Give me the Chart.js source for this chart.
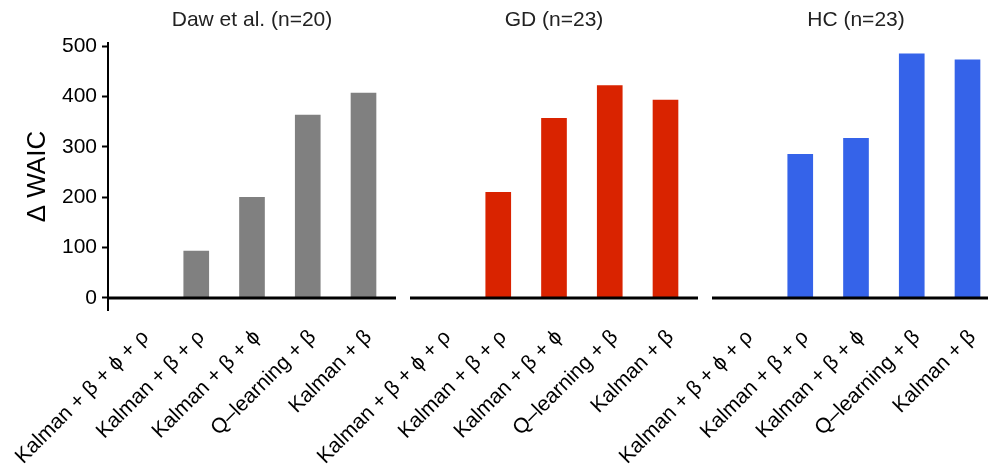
<!DOCTYPE html>
<html>
<head>
<meta charset="utf-8">
<script src="https://cdn.jsdelivr.net/npm/chart.js@4.4.1/dist/chart.umd.min.js"></script>
<style>
	html, body { margin: 0; padding: 0; background: #fff; }
	#wrap { position: relative; width: 988px; height: 465px; overflow: hidden; }
	#wrap canvas { position: absolute; left: 0; top: 0; }
</style>
</head>
<body>
<div id="wrap">
	<canvas id="daw" width="1000" height="465"></canvas>
	<canvas id="gd" width="1000" height="465"></canvas>
	<canvas id="hc" width="1000" height="465"></canvas>
</div>
<script>
// model names (same for every panel)
var models = ["Kalman + β + ϕ + ρ", "Kalman + β + ρ", "Kalman + β + ϕ", "Q–learning + β", "Kalman + β"];

// delta WAIC per group
var dawValues = [0, 93, 200, 363, 407];
var gdValues = [0, 210, 357, 422, 393];
var hcValues = [0, 285, 317, 485, 473];

var panelTitles = ["Daw et al. (n=20)", "GD (n=23)", "HC (n=23)"];
var yTicks = [0, 100, 200, 300, 400, 500];

var font = "'Liberation Sans', Arial, Helvetica, sans-serif";

// black line at y = 0 across the panel
var zeroLine = {
	id: "zeroLine",
	afterDatasetsDraw: function (chart) {
		var area = chart.chartArea;
		var y = chart.scales.y.getPixelForValue(0);
		var ctx = chart.ctx;
		ctx.save();
		ctx.strokeStyle = "#000";
		ctx.lineWidth = 3;
		ctx.beginPath();
		ctx.moveTo(area.left, y);
		ctx.lineTo(area.right, y);
		ctx.stroke();
		ctx.restore();
	}
};

function makePanel(id, title, values, color, left, right, showY) {
	var points = [];
	for (var i = 0; i < values.length; i++) {
		points.push({ x: i, y: values[i] });
	}

	var yScale = {
		min: -24,
		max: 506,
		display: showY,
		afterBuildTicks: function (scale) {
			scale.ticks = yTicks.map(function (v) { return { value: v }; });
		}
	};
	if (showY) {
		yScale.border = { display: true, color: "#000", width: 2 };
		yScale.grid = { drawOnChartArea: false, drawTicks: true, tickLength: 6, tickColor: "#000", tickWidth: 2 };
		yScale.ticks = { color: "#000", font: { family: font, size: 21 }, padding: 5 };
		yScale.title = {
			display: true,
			text: "Δ WAIC",
			color: "#000",
			font: { family: font, size: 26 },
			padding: { top: 22, bottom: 0 }
		};
		yScale.afterFit = function (scale) { scale.width = 108; };
	}

	return new Chart(document.getElementById(id), {
		type: "bar",
		data: {
			datasets: [{
				data: points,
				backgroundColor: color,
				borderWidth: 0,
				barThickness: 25
			}]
		},
		options: {
			responsive: false,
			animation: false,
			devicePixelRatio: 1,
			layout: { padding: { left: left, right: 1000 - right, top: 0, bottom: 0 } },
			plugins: {
				legend: { display: false },
				tooltip: { enabled: false },
				title: {
					display: true,
					text: title,
					fullSize: false,
					color: "#222",
					font: { family: font, size: 21, weight: "normal" },
					padding: { top: 8, bottom: 10 }
				}
			},
			scales: {
				x: {
					type: "linear",
					offset: false,
					min: -0.583,
					max: 4.583,
					grid: { display: false, drawTicks: false, offset: false },
					border: { display: false },
					afterBuildTicks: function (scale) {
						scale.ticks = models.map(function (m, i) { return { value: i }; });
					},
					ticks: {
						color: "#000",
						font: { family: font, size: 21 },
						minRotation: 45,
						maxRotation: 45,
						autoSkip: false,
						padding: 15,
						labelOffset: 5,
						callback: function (value) { return models[value]; }
					},
					afterFit: function (scale) {
						scale.height = 155;
						scale.paddingLeft = 0;
						scale.paddingRight = 0;
					}
				},
				y: yScale
			}
		},
		plugins: [zeroLine]
	});
}

makePanel("daw", panelTitles[0], dawValues, "#808080", 0, 396, true);
makePanel("gd", panelTitles[1], gdValues, "#d92300", 410, 698, false);
makePanel("hc", panelTitles[2], hcValues, "#3563e9", 712, 1000, false);
</script>
</body>
</html>
